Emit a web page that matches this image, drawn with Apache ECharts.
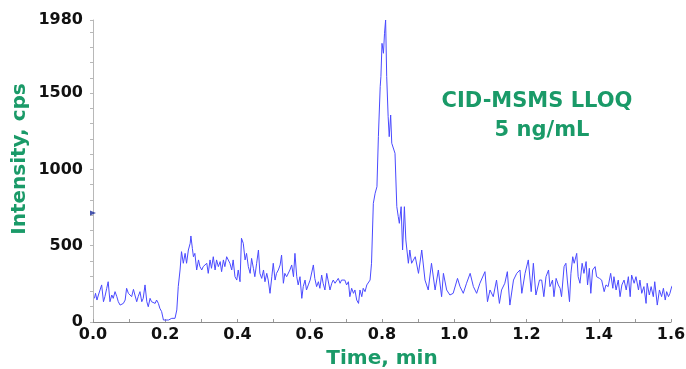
<!DOCTYPE html>
<html><head><meta charset="utf-8">
<script src="https://cdn.jsdelivr.net/npm/echarts@6/dist/echarts.min.js"></script>
<style>html,body{margin:0;padding:0;background:#fff}#c{width:686px;height:369px}</style>
</head><body><div id="c"></div>
<script>
const xTickLabels = [0.0, 0.2, 0.4, 0.6, 0.8, 1.0, 1.2, 1.4, 1.6];
const yTickLabels = [0, 500, 1000, 1500, 1980];
const xTitle = 'Time, min';
const yTitle = 'Intensity, cps';
const noteLines = ['CID-MSMS LLOQ', '5 ng/mL'];
const leftMarker = [0, 715];

const times = [
0.004,0.007,0.011,0.015,0.019,0.024,0.029,0.033,0.038,0.042,0.047,0.052,0.056,0.061,0.066,0.070,0.075,0.079,0.084,0.089,
0.093,0.098,0.102,0.107,0.112,0.116,0.121,0.125,0.130,0.135,0.139,0.144,0.149,0.153,0.158,0.162,0.167,0.172,0.176,0.181,
0.185,0.190,0.195,0.199,0.209,0.218,0.222,0.227,0.232,0.236,0.241,0.245,0.250,0.255,0.259,0.264,0.269,0.271,0.275,0.278,
0.282,0.287,0.292,0.296,0.301,0.305,0.310,0.315,0.319,0.324,0.328,0.333,0.338,0.342,0.347,0.352,0.356,0.361,0.365,0.370,
0.375,0.379,0.384,0.388,0.393,0.398,0.402,0.407,0.411,0.416,0.421,0.425,0.430,0.435,0.439,0.444,0.448,0.453,0.458,0.462,
0.467,0.472,0.476,0.481,0.485,0.490,0.495,0.499,0.504,0.508,0.513,0.518,0.522,0.527,0.531,0.536,0.541,0.545,0.550,0.555,
0.559,0.564,0.568,0.573,0.578,0.582,0.587,0.591,0.596,0.601,0.605,0.610,0.614,0.619,0.624,0.628,0.633,0.637,0.642,0.647,
0.651,0.656,0.661,0.665,0.670,0.674,0.679,0.684,0.688,0.693,0.697,0.702,0.707,0.711,0.716,0.721,0.725,0.730,0.735,0.739,
0.744,0.748,0.753,0.758,0.762,0.767,0.771,0.776,0.781,0.786,0.790,0.795,0.797,0.800,0.804,0.807,0.810,0.813,0.817,0.820,
0.824,0.827,0.831,0.836,0.841,0.845,0.848,0.853,0.857,0.862,0.866,0.873,0.877,0.882,0.892,0.901,0.910,0.919,0.928,0.937,
0.947,0.956,0.965,0.970,0.979,0.988,0.997,1.009,1.016,1.025,1.034,1.044,1.053,1.062,1.071,1.085,1.092,1.099,1.108,1.117,
1.125,1.131,1.140,1.147,1.154,1.164,1.173,1.182,1.187,1.196,1.205,1.213,1.219,1.226,1.236,1.242,1.248,1.254,1.261,1.265,
1.272,1.276,1.282,1.288,1.293,1.297,1.304,1.309,1.313,1.319,1.323,1.328,1.332,1.339,1.343,1.348,1.354,1.359,1.365,1.369,
1.374,1.378,1.383,1.390,1.394,1.402,1.408,1.415,1.420,1.426,1.433,1.439,1.442,1.448,1.454,1.459,1.464,1.470,1.476,1.482,
1.487,1.491,1.498,1.503,1.510,1.514,1.519,1.525,1.531,1.534,1.540,1.545,1.551,1.555,1.562,1.568,1.574,1.579,1.584,1.588,
1.593,1.597,1.602,1.605
];
const intensities = [
155,188,144,177,166,243,133,166,221,264,133,177,155,199,166,133,111,100,122,144,
221,188,199,166,214,177,133,166,199,133,155,243,133,100,155,133,144,122,144,122,
90,68,13,24,13,24,13,24,79,232,341,461,385,450,385,472,516,564,483,428,
450,341,407,363,341,363,352,385,319,407,352,428,341,407,363,396,330,407,363,428,
439,385,341,407,297,275,341,264,549,516,407,450,363,319,417,352,297,385,472,319,
286,341,264,319,275,188,297,385,275,319,341,374,439,254,319,297,286,341,374,297,
450,297,243,297,155,232,275,210,243,275,275,374,286,232,264,221,308,254,210,319,
330,210,254,275,254,243,286,254,275,264,275,243,264,166,221,188,210,144,122,210,
166,221,199,243,254,275,385,778,844,887,1215,1543,1609,1827,1762,1893,1980,1609,1346,1215,
1357,1172,1182,1106,756,691,647,756,472,756,538,385,472,385,428,319,472,275,210,385,
210,341,166,319,210,177,188,286,232,188,254,319,232,188,254,330,133,210,166,275,
122,210,254,330,111,275,319,341,188,319,407,199,385,177,275,275,166,297,341,232,
275,166,286,243,221,166,363,385,275,133,319,428,385,450,297,254,385,319,396,243,
352,188,341,363,297,286,275,199,243,232,319,221,297,210,275,166,243,275,210,297,
166,308,254,297,210,275,188,232,122,254,177,232,166,264,111,210,166,221,144,199,
166,188,232,243
];

const chart = echarts.init(document.getElementById('c'), null, {renderer: 'canvas'});
const green = '#1a9a68';
const lineData = times.map((t, i) => [t, intensities[i]]);
const yMinor = [];
for (let v = 0; v <= 1900; v += 100) yMinor.push(v);
yMinor.push(1980);
const xMinor = [];
for (let i = 0; i <= 16; i++) xMinor.push(+(i / 10).toFixed(1));
const tickFont = {fontFamily: 'DejaVu Sans', fontWeight: 'bold', fontSize: 16, color: '#111'};

chart.setOption({
  animation: false,
  backgroundColor: '#fff',
  grid: {left: 93, right: 15, top: 20, bottom: 47, containLabel: false, outerBoundsMode: 'none'},
  xAxis: {
    type: 'value', min: 0, max: 1.6, interval: 0.2,
    axisLine: {show: true, lineStyle: {color: '#8c8c8c', width: 1}},
    axisTick: {show: true, inside: true, length: 3, lineStyle: {color: '#9a9a9a'}, customValues: xMinor},
    axisLabel: Object.assign({customValues: xTickLabels, margin: 5, formatter: v => v.toFixed(1)}, tickFont),
    splitLine: {show: false},
    name: xTitle, nameLocation: 'middle', nameGap: 27,
    nameTextStyle: {fontFamily: 'DejaVu Sans', fontWeight: 'bold', fontSize: 20, color: green}
  },
  yAxis: {
    type: 'value', min: 0, max: 1980,
    axisLine: {show: true, lineStyle: {color: '#b8b8b8', width: 1}},
    axisTick: {show: true, inside: false, length: 3, lineStyle: {color: '#b8b8b8'}, customValues: yMinor},
    axisLabel: Object.assign({customValues: yTickLabels, margin: 10, formatter: v => String(v)}, tickFont),
    splitLine: {show: false}
  },
  series: [
    {
      type: 'line', data: lineData, showSymbol: false, smooth: false,
      lineStyle: {color: '#4a4aff', width: 1}, z: 3
    },
    {
      type: 'scatter', data: [leftMarker], symbol: 'triangle', symbolSize: [5, 6], symbolRotate: -90,
      itemStyle: {color: '#1a2a9a'}, z: 4
    }
  ],
  graphic: [
    {type: 'text', x: 19.5, y: 159, rotation: Math.PI / 2,
     style: {text: yTitle, font: 'bold 20px "DejaVu Sans"', fill: green, align: 'center', verticalAlign: 'middle'}},
    {type: 'text', x: 537, y: 102, style: {text: noteLines[0], font: 'bold 21px "DejaVu Sans"', fill: green, align: 'center', verticalAlign: 'middle'}},
    {type: 'text', x: 542, y: 131, style: {text: noteLines[1], font: 'bold 21px "DejaVu Sans"', fill: green, align: 'center', verticalAlign: 'middle'}}
  ]
});
</script>
</body></html>
